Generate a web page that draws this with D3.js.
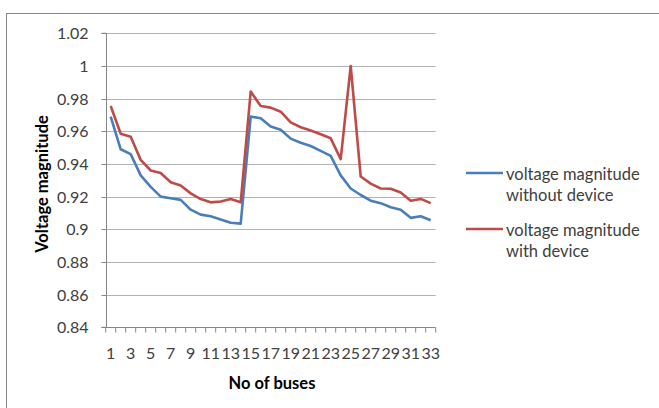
<!DOCTYPE html>
<html><head><meta charset="utf-8">
<script src="https://cdn.jsdelivr.net/npm/d3@7"></script>
<style>body{margin:0;background:#fff}svg{display:block}text{font-family:Lato,"Liberation Sans",sans-serif;fill:#404040}</style>
</head><body><svg id="c" width="659" height="408"></svg>
<script>
const buses = d3.range(1, 34);
const withoutDevice = [0.969,0.949,0.946,0.933,0.926,0.920,0.919,0.918,0.912,0.909,0.908,0.906,0.904,0.9035,0.969,0.968,0.963,0.961,0.9555,0.953,0.951,0.948,0.945,0.933,0.925,0.921,0.9175,0.916,0.9135,0.912,0.907,0.908,0.9055];
const withDevice = [0.9755,0.9585,0.9567,0.9425,0.936,0.9345,0.9288,0.9268,0.922,0.9185,0.9165,0.917,0.9186,0.9165,0.9843,0.9755,0.9745,0.972,0.9655,0.9625,0.9605,0.9582,0.9557,0.943,1.0,0.9323,0.928,0.925,0.9248,0.9225,0.9175,0.9186,0.916];
const yTicks = [0.84,0.86,0.88,0.9,0.92,0.94,0.96,0.98,1,1.02];
const seriesNames = ["voltage magnitude|without device","voltage magnitude|with device"];
const colors = ["#4A7EBB","#BE4B48"];

const svg = d3.select("#c");
svg.append("rect").attr("x",6.5).attr("y",13.5).attr("width",700).attr("height",500).attr("fill","none").attr("stroke","#868686").attr("stroke-width",1);

const L=105.7, R=435.7, T=33.3, B=327.3;
const x = d3.scaleBand().domain(buses).range([L,R]);
const y = d3.scaleLinear().domain([0.84,1.02]).range([B,T]);
const FF = "Lato,'Liberation Sans',sans-serif";

// gridlines
svg.append("g").selectAll("line").data(yTicks.slice(1)).join("line")
 .attr("x1",L).attr("x2",R).attr("y1",d=>Math.round(y(d))+0.5).attr("y2",d=>Math.round(y(d))+0.5)
 .attr("stroke","#B3B3B3").attr("stroke-width",1);

// y axis
const ya = svg.append("g").attr("transform",`translate(${Math.round(L)+0.5},0)`)
 .call(d3.axisLeft(y).tickValues(yTicks).tickFormat(d=>d3.format("")(+d.toFixed(2))).tickSize(5).tickPadding(13));
ya.select(".domain").attr("stroke","#868686").attr("d",`M-5,${y(0.84)}H0V${y(1.02)}H-5`);
ya.selectAll(".tick line").attr("stroke","#868686");
ya.selectAll(".tick").attr("transform",d=>`translate(0,${Math.round(y(d))+0.5})`);
ya.selectAll("text").style("font-size","16px").style("fill","#404040").style("font-family",FF);

// x axis
const xa = svg.append("g").attr("transform",`translate(0,${Math.round(B)+0.5})`)
 .call(d3.axisBottom(x).tickValues(buses).tickFormat(d=>d%2===1?d:"").tickSize(5).tickPadding(15));
xa.select(".domain").attr("stroke","#868686").attr("d",`M${L},0H${R}`);
xa.selectAll(".tick line").attr("stroke","#868686").attr("transform",`translate(${-x.bandwidth()/2},0)`);
xa.append("line").attr("x1",R).attr("x2",R).attr("y1",0).attr("y2",5).attr("stroke","#868686");
xa.selectAll("text").style("font-size","16px").style("fill","#404040").style("font-family",FF);
xa.selectAll(".tick").attr("transform",d=>`translate(${x(d)+x.bandwidth()/2},0)`);

// lines
const line = d3.line().x((d,i)=>x(buses[i])+x.bandwidth()/2).y(d=>y(d));
[withoutDevice, withDevice].forEach((s,k)=>{
  svg.append("path").datum(s).attr("d",line).attr("fill","none").attr("stroke",colors[k]).attr("stroke-width",2.6).attr("stroke-linejoin","round");
});

// axis titles
svg.append("text").attr("transform","translate(48,184) rotate(-90)").attr("text-anchor","middle")
 .style("font-size","16.5px").style("font-weight","bold").style("fill","#000").text("Voltage magnitude");
svg.append("text").attr("x",272).attr("y",389).attr("text-anchor","middle")
 .style("font-size","16.5px").style("font-weight","bold").style("fill","#000").text("No of buses");

// legend
const legY=[173,229];
seriesNames.forEach((n,k)=>{
  const g=svg.append("g");
  g.append("line").attr("x1",466).attr("x2",503).attr("y1",legY[k]).attr("y2",legY[k]).attr("stroke",colors[k]).attr("stroke-width",2.6);
  n.split("|").forEach((t,j)=>{
    g.append("text").attr("x",506).attr("y",legY[k]+7+j*21).style("font-size","16.5px").style("fill","#404040").text(t);
  });
});
</script></body></html>
